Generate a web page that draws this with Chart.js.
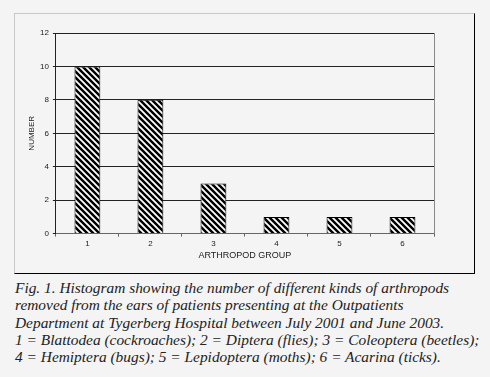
<!DOCTYPE html>
<html>
<head>
<meta charset="utf-8">
<script src="https://cdn.jsdelivr.net/npm/chart.js@4"></script>
<style>
  body { margin: 0; background: #f4f4f4; width: 490px; height: 377px; overflow: hidden; position: relative; }
  #frame { position: absolute; left: 14px; top: 13px; width: 459px; height: 259px;
           border-left: 1px solid #c8c8c8; border-top: 1px solid #c8c8c8;
           border-right: 1px solid #000; border-bottom: 1px solid #000; }
  #wrap { position: absolute; left: 15px; top: 14px; width: 459px; height: 259px; }
  #caption { position: absolute; left: 15px; top: 279px; width: 475px; white-space: nowrap;
             font-family: "Liberation Serif", "DejaVu Serif", serif; font-style: italic;
             font-size: 15.4px; line-height: 17.3px; color: #222; }
</style>
</head>
<body>
<div id="frame"></div>
<div id="wrap"><canvas id="myChart" width="459" height="259"></canvas></div>
<div id="caption">
Fig. 1. Histogram showing the number of different kinds of arthropods<br>
removed from the ears of patients presenting at the Outpatients<br>
Department at Tygerberg Hospital between July 2001 and June 2003.<br>
1 = Blattodea (cockroaches); 2 = Diptera (flies); 3 = Coleoptera (beetles);<br>
4 = Hemiptera (bugs); 5 = Lepidoptera (moths); 6 = Acarina (ticks).
</div>
<script>
const groups = ['1', '2', '3', '4', '5', '6'];
const counts = [10, 8, 3, 1, 1, 1];
const yTicks = [0, 2, 4, 6, 8, 10, 12];

const makeStripes = () => {
    const p = document.createElement('canvas');
    p.width = 6;
    p.height = 6;
    const c = p.getContext('2d');
    c.fillStyle = '#000';
    c.fillRect(0, 0, 6, 6);
    c.strokeStyle = '#fff';
    c.lineWidth = 1.8;
    c.beginPath();
    c.moveTo(-1, -1); c.lineTo(7, 7);
    c.moveTo(-4, 2); c.lineTo(4, 10);
    c.moveTo(2, -4); c.lineTo(10, 4);
    c.stroke();
    return document.getElementById('myChart').getContext('2d').createPattern(p, 'repeat');
};

const rightEdge = {
    id: 'rightEdge',
    afterDraw(chart) {
        const { ctx, chartArea } = chart;
        ctx.save();
        ctx.strokeStyle = '#888';
        ctx.lineWidth = 1;
        ctx.beginPath();
        ctx.moveTo(Math.round(chartArea.right) + 0.5, chartArea.top);
        ctx.lineTo(Math.round(chartArea.right) + 0.5, chartArea.bottom);
        ctx.stroke();
        ctx.restore();
    }
};

const ctx = document.getElementById('myChart').getContext('2d');
const font = { family: 'Liberation Sans, Arial, sans-serif', size: 8 };

const myChart = new Chart(ctx, {
    type: 'bar',
    data: {
        labels: groups,
        datasets: [{
            data: counts,
            backgroundColor: makeStripes(),
            borderColor: '#000',
            borderWidth: 1,
            categoryPercentage: 1,
            barPercentage: 0.41
        }]
    },
    options: {
        responsive: false,
        animation: false,
        maintainAspectRatio: false,
        layout: { padding: { left: 9, top: 19, right: 40, bottom: 8 } },
        plugins: { legend: { display: false }, tooltip: { enabled: false } },
        scales: {
            x: {
                grid: { drawOnChartArea: false, color: '#666', tickLength: 3 },
                border: { color: '#666' },
                ticks: { color: '#222', font: font, padding: 2 },
                title: { display: true, text: 'ARTHROPOD GROUP', color: '#222',
                         font: { family: 'Liberation Sans, Arial, sans-serif', size: 9 }, padding: { top: 0 } }
            },
            y: {
                min: 0,
                max: 12,
                afterBuildTicks: axis => { axis.ticks = yTicks.map(v => ({ value: v })); },
                grid: { color: '#222', tickLength: 3 },
                border: { color: '#222' },
                ticks: { color: '#222', font: font, padding: 4 },
                title: { display: true, text: 'NUMBER', color: '#222',
                         font: { family: 'Liberation Sans, Arial, sans-serif', size: 8, lineHeight: 1 }, padding: { bottom: 0 } }
            }
        }
    },
    plugins: [rightEdge]
});
</script>
</body>
</html>
